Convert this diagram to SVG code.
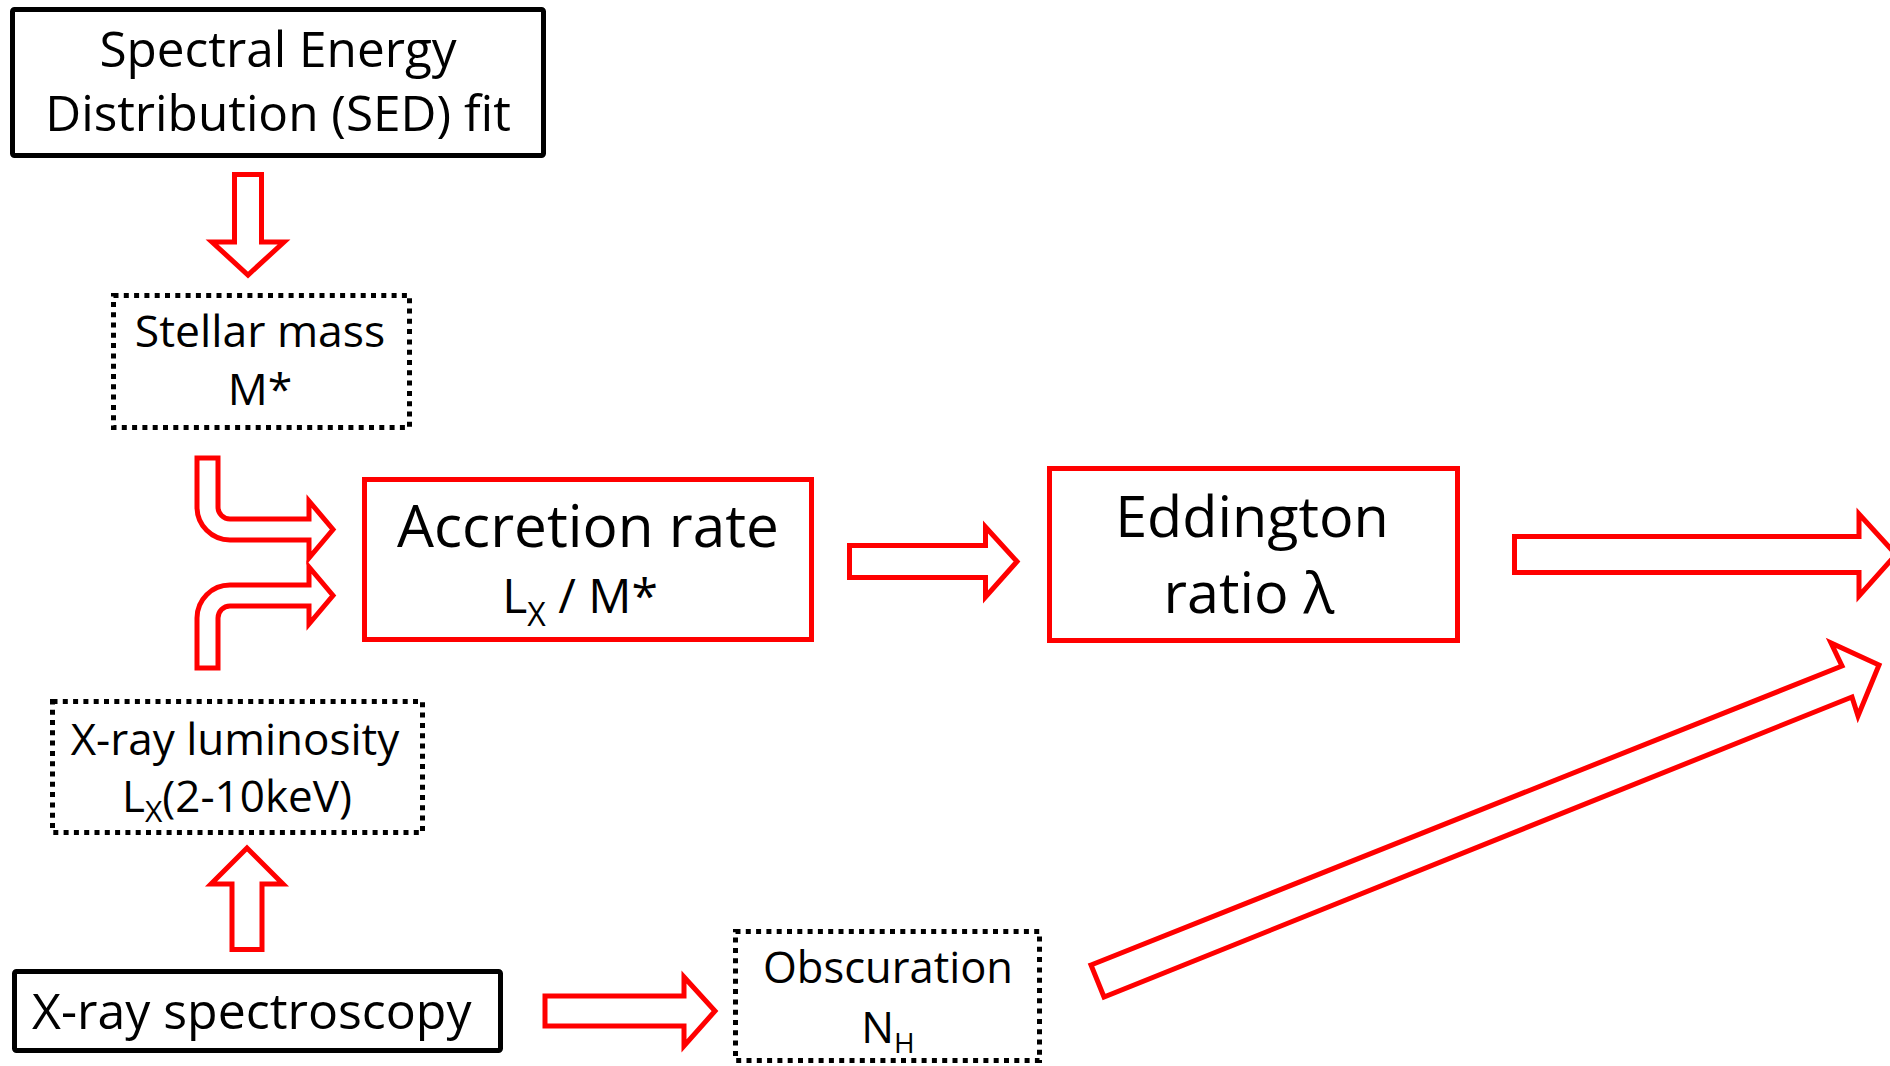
<svg xmlns="http://www.w3.org/2000/svg" width="1890" height="1066" viewBox="0 0 1890 1066">
<style>
  text { font-family: "Open Sans", "Noto Sans", "Liberation Sans", sans-serif; fill: #000; text-anchor: middle; }
  .solid { fill: #fff; stroke: #000; stroke-width: 5; }
  .dotted { fill: #fff; stroke: #000; stroke-width: 5; stroke-dasharray: 5 5.3; }
  .redbox { fill: #fff; stroke: #ff0000; stroke-width: 5; }
  .arrow { fill: #fff; stroke: #ff0000; stroke-width: 5; stroke-linejoin: miter; stroke-miterlimit: 10; }
</style>
<rect width="1890" height="1066" fill="#fff"/>

<g id="connectors">
  <path class="arrow" d="M234.5,174.5 H261.5 V242 H284 L248,275 L212,242 H234.5 Z"/>
  <path class="arrow" d="M197,458 V507 A33,33 0 0 0 230,540 H309 V558 L333,529.5 L309,501 V519 H230 A12,12 0 0 1 218,507 V458 Z"/>
  <path class="arrow" d="M197,668 V618 A33,33 0 0 1 230,585 H309 V567 L333,595.5 L309,624 V606 H230 A12,12 0 0 0 218,618 V668 Z"/>
  <path class="arrow" d="M232,949.5 V884 H211 L247,848 L283,884 H262 V949.5 Z"/>
  <path class="arrow" d="M849.5,545.5 H985.5 V527 L1017,561.5 L985.5,597 V577.5 H849.5 Z"/>
  <path class="arrow" d="M1514.5,536.5 H1859 V514 L1896,554.5 L1859,596 V572.5 H1514.5 Z"/>
  <path class="arrow" d="M545,996 H684 V977 L715,1011 L684,1046 V1026 H545 Z"/>
  <path class="arrow" d="M1091,965 L1842,666 L1831,643 L1879,665 L1858,716 L1852,697 L1104,997 Z"/>
</g>

<g id="sed">
  <rect class="solid" x="12.5" y="9.5" width="531" height="146" rx="2"/>
  <text x="278" y="67" font-size="49.5">Spectral Energy</text>
  <text x="278" y="131" font-size="49.5">Distribution (SED) fit</text>
</g>

<g id="stellar-mass">
  <rect class="dotted" x="113.5" y="295.5" width="296" height="132"/>
  <text x="260" y="347" font-size="44.5">Stellar mass</text>
  <text x="260" y="405" font-size="44.5">M*</text>
</g>

<g id="xray-luminosity">
  <rect class="dotted" x="52.5" y="701.5" width="370" height="131"/>
  <text x="235" y="755" font-size="44">X-ray luminosity</text>
  <text x="237" y="812" font-size="44">L<tspan font-size="30" dy="10">X</tspan><tspan dy="-10">(2-10keV)</tspan></text>
</g>

<g id="accretion-rate">
  <rect class="redbox" x="364.5" y="479.5" width="447" height="160"/>
  <text x="588" y="547" font-size="58.5">Accretion rate</text>
  <text x="580" y="613" font-size="48">L<tspan font-size="32" dy="13">X</tspan><tspan dy="-13"> / M*</tspan></text>
</g>

<g id="eddington-ratio">
  <rect class="redbox" x="1049.5" y="468.5" width="408" height="172"/>
  <text x="1252" y="537" font-size="57.5">Eddington</text>
  <text x="1249" y="613" font-size="57.5">ratio λ</text>
</g>

<g id="xray-spectroscopy">
  <rect class="solid" x="14.5" y="971.5" width="486" height="79" rx="2"/>
  <text x="32" y="1029" font-size="50" style="text-anchor:start">X-ray spectroscopy</text>
</g>

<g id="obscuration">
  <rect class="dotted" x="735.5" y="931.5" width="304" height="129"/>
  <text x="888" y="983" font-size="43.5">Obscuration</text>
  <text x="888" y="1043" font-size="43.5">N<tspan font-size="28" dy="10">H</tspan></text>
</g>
</svg>
